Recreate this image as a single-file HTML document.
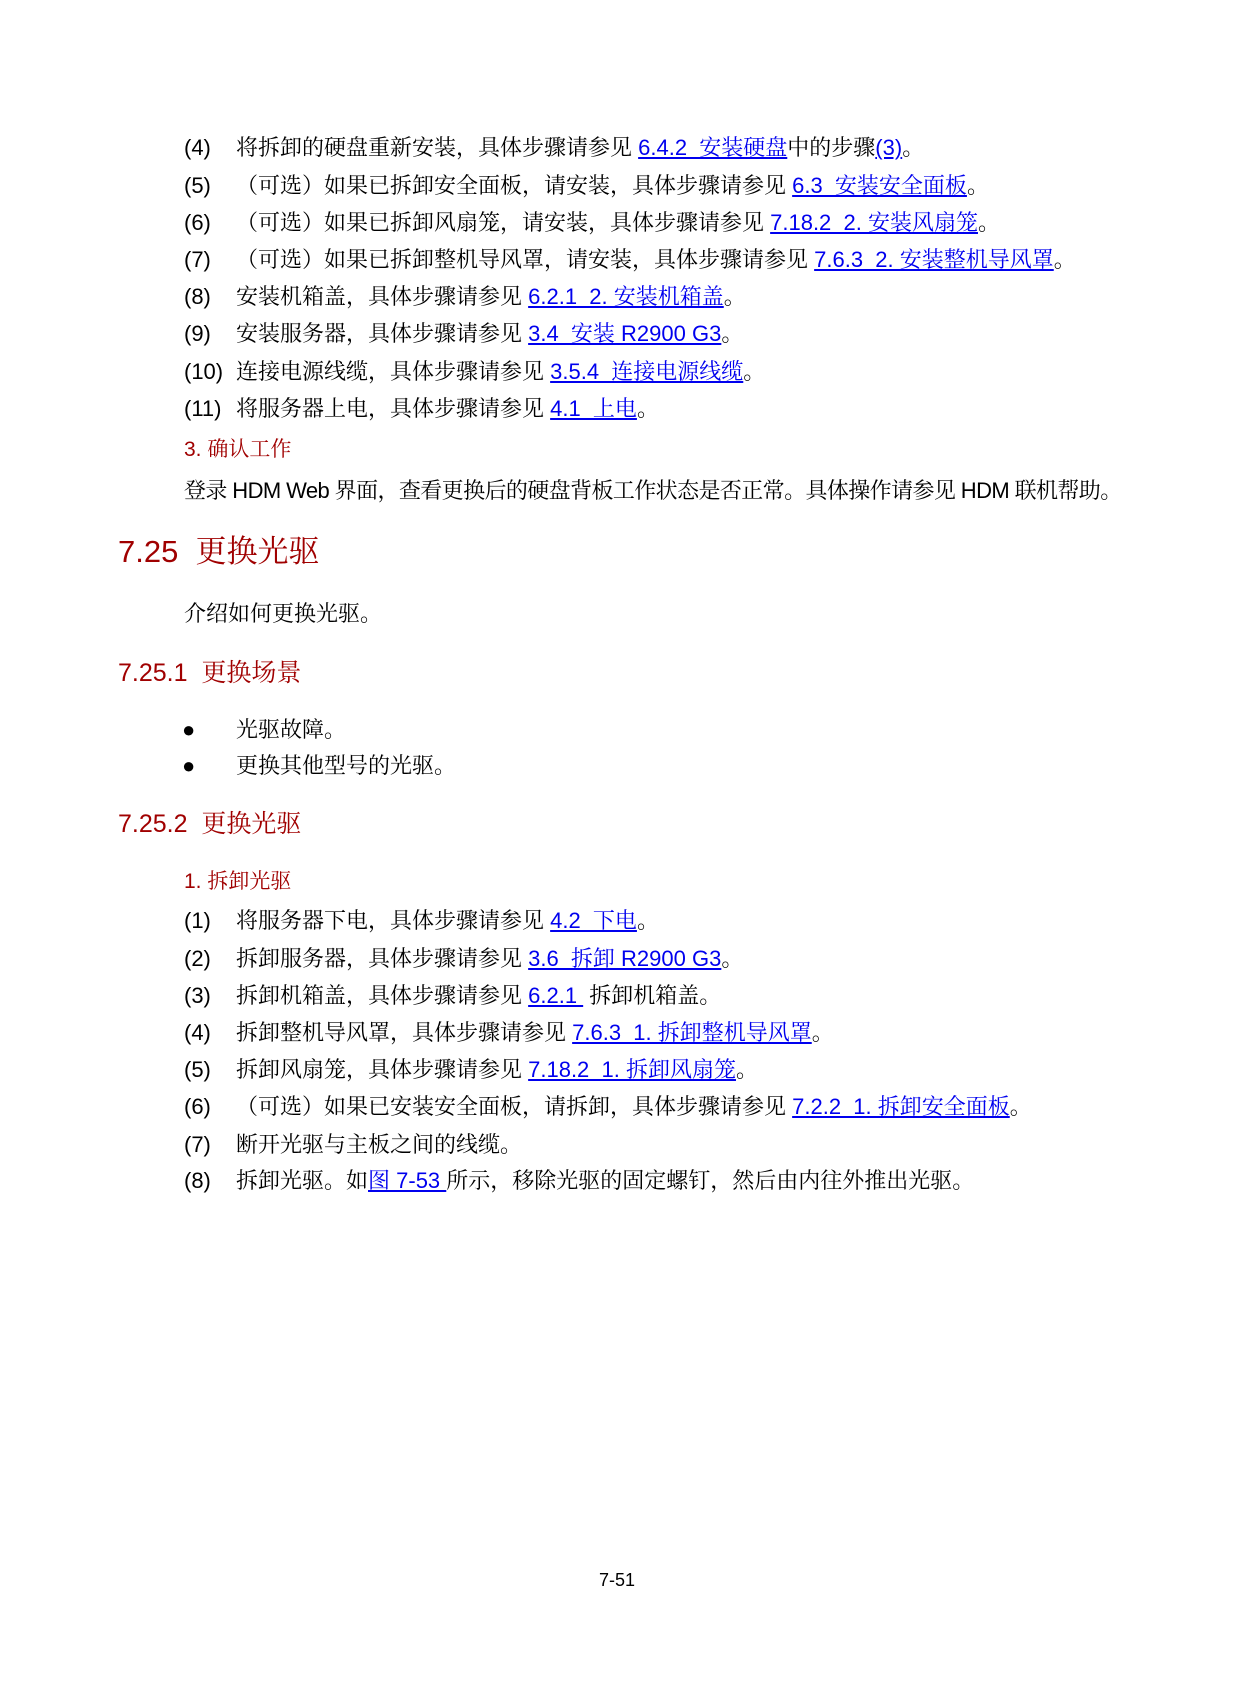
<!DOCTYPE html>
<html><head><meta charset="utf-8"><style>
html,body{margin:0;padding:0;background:#fff;}
body{width:1240px;height:1683px;position:relative;overflow:hidden;font-family:"Liberation Sans","Noto Serif CJK SC",serif;color:#000;}
.l{position:absolute;height:30px;line-height:30px;font-size:22px;white-space:nowrap;}
.n{position:absolute;height:30px;line-height:30px;font-size:22px;left:184px;}
a{color:#0000ee;text-decoration:underline;}
.r{color:#a00000;}
</style></head><body>
<div class="n" style="top:133px">(4)</div><div class="l" style="left:236px;top:133px">将拆卸的硬盘重新安装，具体步骤请参见 <a>6.4.2&nbsp; 安装硬盘</a>中的步骤<a>(3)</a>。</div>
<div class="n" style="top:171px">(5)</div><div class="l" style="left:236px;top:171px">（可选）如果已拆卸安全面板，请安装，具体步骤请参见 <a>6.3&nbsp; 安装安全面板</a>。</div>
<div class="n" style="top:208px">(6)</div><div class="l" style="left:236px;top:208px">（可选）如果已拆卸风扇笼，请安装，具体步骤请参见 <a>7.18.2&nbsp; 2. 安装风扇笼</a>。</div>
<div class="n" style="top:245px">(7)</div><div class="l" style="left:236px;top:245px">（可选）如果已拆卸整机导风罩，请安装，具体步骤请参见 <a>7.6.3&nbsp; 2. 安装整机导风罩</a>。</div>
<div class="n" style="top:282px">(8)</div><div class="l" style="left:236px;top:282px">安装机箱盖，具体步骤请参见 <a>6.2.1&nbsp; 2. 安装机箱盖</a>。</div>
<div class="n" style="top:319px">(9)</div><div class="l" style="left:236px;top:319px">安装服务器，具体步骤请参见 <a>3.4&nbsp; 安装 R2900 G3</a>。</div>
<div class="n" style="top:357px">(10)</div><div class="l" style="left:236px;top:357px">连接电源线缆，具体步骤请参见 <a>3.5.4&nbsp; 连接电源线缆</a>。</div>
<div class="n" style="top:394px">(11)</div><div class="l" style="left:236px;top:394px">将服务器上电，具体步骤请参见 <a>4.1&nbsp; 上电</a>。</div>
<div class="l r" style="left:184px;top:435px;font-size:21px">3. 确认工作</div>
<div class="l" style="left:184px;top:476px;letter-spacing:-0.6px">登录 HDM Web 界面，查看更换后的硬盘背板工作状态是否正常。具体操作请参见 HDM 联机帮助。</div>
<div class="l r" style="left:118px;top:534px;height:36px;line-height:36px;font-size:31px">7.25&nbsp; 更换光驱</div>
<div class="l" style="left:184px;top:599px">介绍如何更换光驱。</div>
<div class="l r" style="left:118px;top:658px;font-size:25px">7.25.1&nbsp; 更换场景</div>
<div class="l" style="left:182px;top:715px">●</div><div class="l" style="left:236px;top:715px">光驱故障。</div>
<div class="l" style="left:182px;top:751px">●</div><div class="l" style="left:236px;top:751px">更换其他型号的光驱。</div>
<div class="l r" style="left:118px;top:809px;font-size:25px">7.25.2&nbsp; 更换光驱</div>
<div class="l r" style="left:184px;top:867px;font-size:21px">1. 拆卸光驱</div>
<div class="n" style="top:906px">(1)</div><div class="l" style="left:236px;top:906px">将服务器下电，具体步骤请参见 <a>4.2&nbsp; 下电</a>。</div>
<div class="n" style="top:944px">(2)</div><div class="l" style="left:236px;top:944px">拆卸服务器，具体步骤请参见 <a>3.6&nbsp; 拆卸 R2900 G3</a>。</div>
<div class="n" style="top:981px">(3)</div><div class="l" style="left:236px;top:981px">拆卸机箱盖，具体步骤请参见 <a>6.2.1&nbsp;</a> 拆卸机箱盖。</div>
<div class="n" style="top:1018px">(4)</div><div class="l" style="left:236px;top:1018px">拆卸整机导风罩，具体步骤请参见 <a>7.6.3&nbsp; 1. 拆卸整机导风罩</a>。</div>
<div class="n" style="top:1055px">(5)</div><div class="l" style="left:236px;top:1055px">拆卸风扇笼，具体步骤请参见 <a>7.18.2&nbsp; 1. 拆卸风扇笼</a>。</div>
<div class="n" style="top:1092px">(6)</div><div class="l" style="left:236px;top:1092px">（可选）如果已安装安全面板，请拆卸，具体步骤请参见 <a>7.2.2&nbsp; 1. 拆卸安全面板</a>。</div>
<div class="n" style="top:1130px">(7)</div><div class="l" style="left:236px;top:1130px">断开光驱与主板之间的线缆。</div>
<div class="n" style="top:1166px">(8)</div><div class="l" style="left:236px;top:1166px">拆卸光驱。如<a>图 7-53 </a>所示，移除光驱的固定螺钉，然后由内往外推出光驱。</div>
<div class="l" style="left:0;width:1234px;text-align:center;top:1565px;font-size:18px">7-51</div>
</body></html>
